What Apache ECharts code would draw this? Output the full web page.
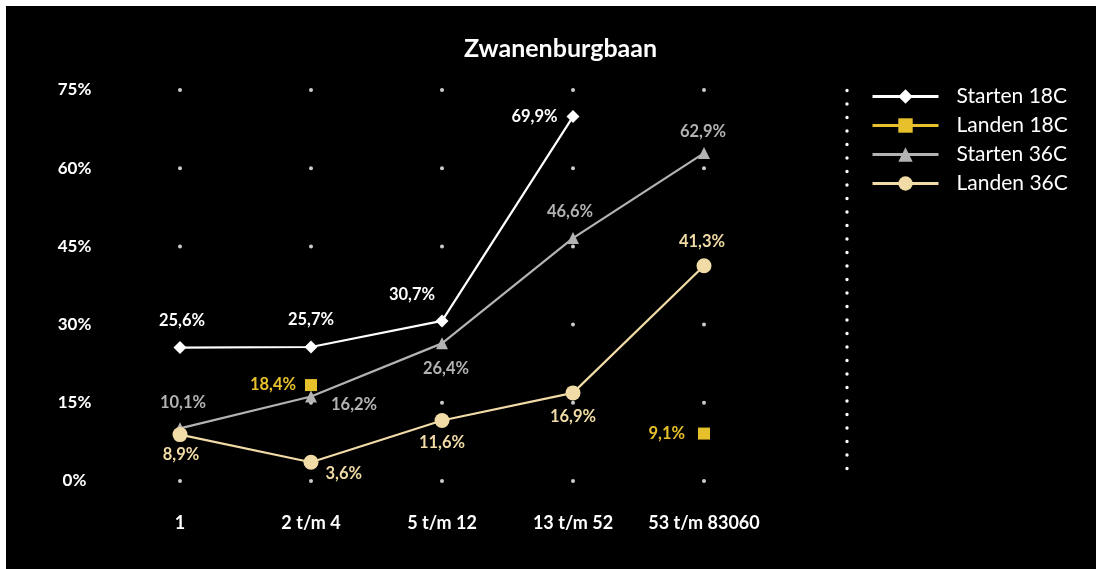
<!DOCTYPE html>
<html>
<head>
<meta charset="utf-8">
<script src="https://cdn.jsdelivr.net/npm/echarts@6/dist/echarts.min.js"></script>
<style>
html,body{margin:0;padding:0;background:#fff;}
#chart{position:absolute;left:6px;top:6px;width:1090px;height:563px;background:#000;}
</style>
</head>
<body>
<div id="chart"></div>
<script>
var categories = ['1', '2 t/m 4', '5 t/m 12', '13 t/m 52', '53 t/m 83060'];
var yTicks = [0, 15, 30, 45, 60, 75];
var starten18C = [25.6, 25.7, 30.7, 69.9, null];
var landen18C  = [null, 18.4, null, null, 9.1];
var starten36C = [10.1, 16.2, 26.4, 46.6, 62.9];
var landen36C  = [8.9, 3.6, 11.6, 16.9, 41.3];

var FONT = 'Lato';
function fmt(v){ return String(v.toFixed(1)).replace('.', ',') + '%'; }

function lbl(pos, color, offset, distance){
  return {show:true, position:pos, color:color, fontFamily:FONT, fontWeight:'bold', fontSize:16.5,
    offset:offset||[0,0], distance:(distance==null?11:distance),
    backgroundColor:'#000', padding:[0,1],
    formatter:function(p){return fmt(p.value);}};
}
function build(vals, labels){
  return vals.map(function(v,i){
    if(v==null) return null;
    return {value:v, label:labels[i]};
  });
}

var cS18='#ffffff', cL18='#e6c12c', cS36='#b3b3b3', cL36='#f1dba6';

var s18Labels=[lbl('top',cS18,[2,0],12), lbl('top',cS18,[0,0],12), lbl('top',cS18,[-30,0],11), lbl('left',cS18,[0,0],8), null];
var l18Labels=[null, lbl('left',cL18,[0,0],8), null, null, lbl('left',cL18,[0,0],12)];
var s36Labels=[lbl('top',cS36,[3,0],11), lbl('right',cS36,[0,8],13), lbl('bottom',cS36,[4,0],11), lbl('top',cS36,[-3,0],12), lbl('top',cS36,[-1,3],10)];
var l36Labels=[lbl('bottom',cL36,[1,0],4), lbl('right',cL36,[0,11],6), lbl('bottom',cL36,[0,0],6), lbl('bottom',cL36,[0,0],8), lbl('top',cL36,[-2,0],8)];

var gridDots=[];
categories.forEach(function(c){ yTicks.forEach(function(t){ gridDots.push([c,t]); }); });

var chart = echarts.init(document.getElementById('chart'));
chart.setOption({
  backgroundColor:'#000',
  animation:false,
  title:{text:'Zwanenburgbaan', left:458, top:30, padding:0,
    textStyle:{color:'#fff', fontFamily:FONT, fontWeight:'bold', fontSize:25}},
  legend:{
    left:865, top:80, padding:0, orient:'vertical', itemWidth:66, itemHeight:18, itemGap:8,
    data:['Starten 18C','Landen 18C','Starten 36C','Landen 36C'],
    lineStyle:{width:3},
    textStyle:{color:'#fff', fontFamily:FONT, fontSize:21, padding:[0,0,0,13]}
  },
  grid:{left:108.5, right:326.5, top:84, bottom:88},
  xAxis:{type:'category', data:categories, boundaryGap:true,
    axisLine:{show:false}, axisTick:{show:false}, splitLine:{show:false},
    axisLabel:{color:'#fff', fontFamily:FONT, fontWeight:'bold', fontSize:18, margin:33, interval:0, hideOverlap:false}},
  yAxis:{type:'value', min:0, max:75, interval:15,
    axisLine:{show:false}, axisTick:{show:false}, splitLine:{show:false},
    axisLabel:{color:'#fff', fontFamily:FONT, fontWeight:'bold', fontSize:17, align:'center', margin:40,
      formatter:function(v){return v+'%';}}},
  graphic:[{type:'line', silent:true, z:0,
    shape:{x1:841, y1:84.5, x2:841, y2:476},
    style:{stroke:'#fff', lineWidth:3.4, lineDash:[0,13.5], lineCap:'round'}}],
  series:[
    {type:'scatter', data:gridDots, symbolSize:4, silent:true, z:1,
      itemStyle:{color:'#fff'}, tooltip:{show:false}, legendHoverLink:false},
    {name:'Starten 18C', type:'line', data:build(starten18C,s18Labels), symbol:'diamond', symbolSize:13,
      lineStyle:{color:cS18,width:2.2}, itemStyle:{color:cS18}, z:5},
    {name:'Landen 18C', type:'line', data:build(landen18C,l18Labels), symbol:'rect', symbolSize:12,
      connectNulls:false, lineStyle:{color:cL18,width:2.2}, itemStyle:{color:cL18}, z:5},
    {name:'Starten 36C', type:'line', data:build(starten36C,s36Labels), symbol:'triangle', symbolSize:12,
      lineStyle:{color:cS36,width:2.2}, itemStyle:{color:cS36}, z:4},
    {name:'Landen 36C', type:'line', data:build(landen36C,l36Labels), symbol:'circle', symbolSize:15,
      lineStyle:{color:cL36,width:2.2}, itemStyle:{color:cL36}, z:6}
  ]
});
</script>
</body>
</html>
